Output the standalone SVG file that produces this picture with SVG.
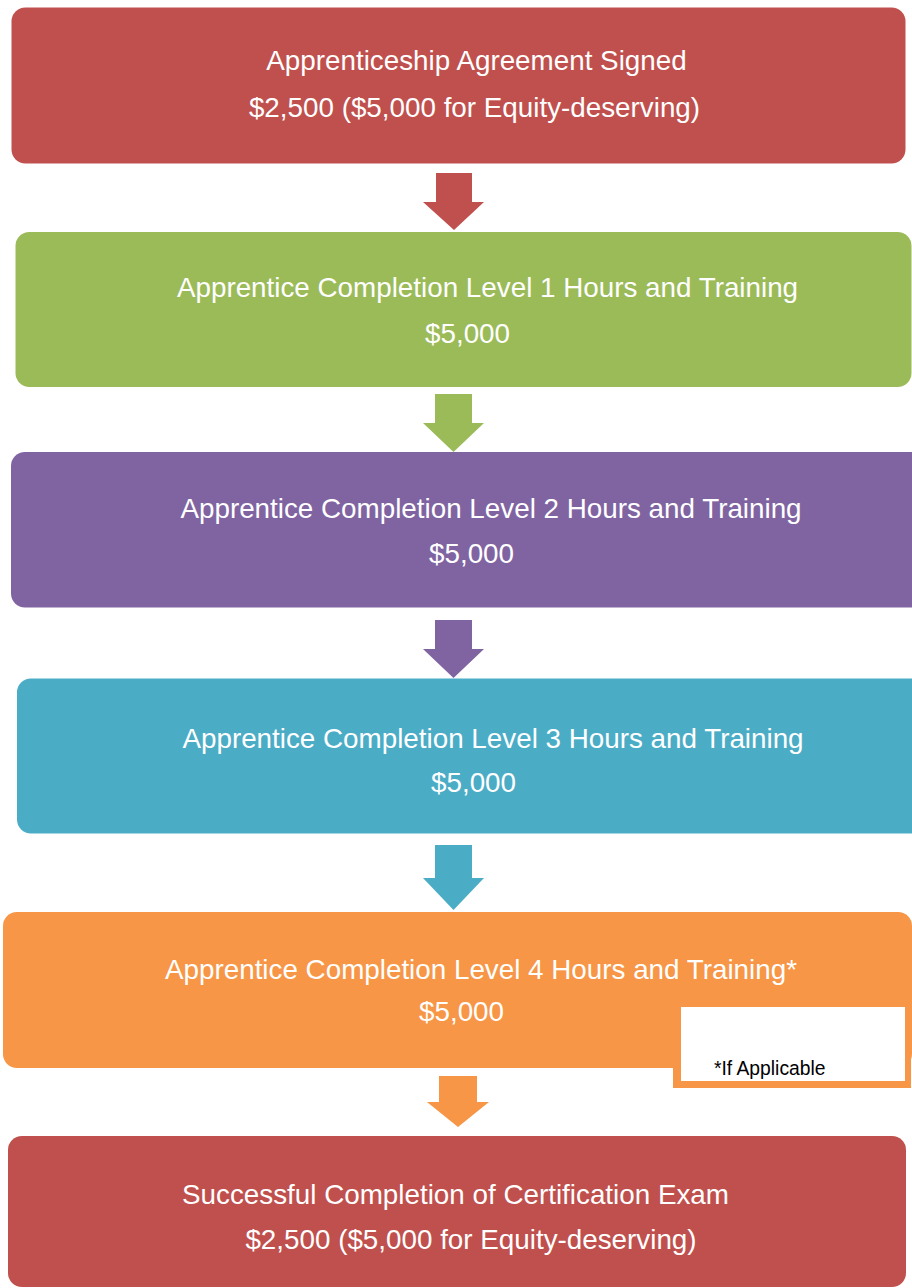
<svg xmlns="http://www.w3.org/2000/svg" width="912" height="1288" viewBox="0 0 912 1288">
<style>
.t{font-family:"Liberation Sans",Arial,sans-serif;font-size:27.8px;fill:#FFFFFF;text-anchor:middle}
.n{font-family:"Liberation Sans",Arial,sans-serif;font-size:19.3px;fill:#000000}
.red{fill:#C0504D}.green{fill:#9BBB59}.purple{fill:#8064A2}.teal{fill:#4BACC6}.orange{fill:#F79646}
</style>
<rect width="912" height="1288" fill="#FFFFFF"/>
<g id="connectors">
<polygon class="red" points="436,173 472,173 472,202 484,202 454,230 423,202 436,202"/>
<polygon class="green" points="435,394 472,394 472,423 484,423 453.5,452 423,423 435,423"/>
<polygon class="purple" points="435,620 472,620 472,649 484,649 453.5,678 423,649 435,649"/>
<polygon class="teal" points="435,845 472,845 472,878 484,878 453.5,910 423,878 435,878"/>
<polygon class="orange" points="439,1076 477,1076 477,1102 489,1102 458,1127 427,1102 439,1102"/>
</g>
<g id="node1">
<rect class="red" x="11.5" y="7.5" width="894" height="156" rx="14"/>
<text class="t" x="476.5" y="70">Apprenticeship Agreement Signed</text>
<text class="t" x="474.5" y="117">$2,500 ($5,000 for Equity-deserving)</text>
</g>
<g id="node2">
<rect class="green" x="15.5" y="232" width="896" height="155" rx="14"/>
<text class="t" x="487.5" y="297">Apprentice Completion Level 1 Hours and Training</text>
<text class="t" x="467.5" y="343">$5,000</text>
</g>
<g id="node3">
<rect class="purple" x="11" y="452" width="915" height="155.5" rx="14"/>
<text class="t" x="491" y="518">Apprentice Completion Level 2 Hours and Training</text>
<text class="t" x="471.5" y="563">$5,000</text>
</g>
<g id="node4">
<rect class="teal" x="17" y="678.5" width="910" height="155" rx="14"/>
<text class="t" x="493" y="748">Apprentice Completion Level 3 Hours and Training</text>
<text class="t" x="473.5" y="792">$5,000</text>
</g>
<g id="node5">
<rect class="orange" x="3" y="912" width="909" height="156" rx="14"/>
<text class="t" x="481" y="979">Apprentice Completion Level 4 Hours and Training*</text>
<text class="t" x="461.5" y="1021">$5,000</text>
</g>
<g id="note">
<rect class="orange" x="673" y="1000" width="238" height="88"/>
<rect x="681" y="1007" width="224" height="74" fill="#FFFFFF"/>
<text class="n" x="714" y="1075">*If Applicable</text>
</g>
<g id="node6">
<rect class="red" x="8" y="1136" width="898" height="151" rx="14"/>
<text class="t" x="455.5" y="1204">Successful Completion of Certification Exam</text>
<text class="t" x="471" y="1249">$2,500 ($5,000 for Equity-deserving)</text>
</g>
</svg>
